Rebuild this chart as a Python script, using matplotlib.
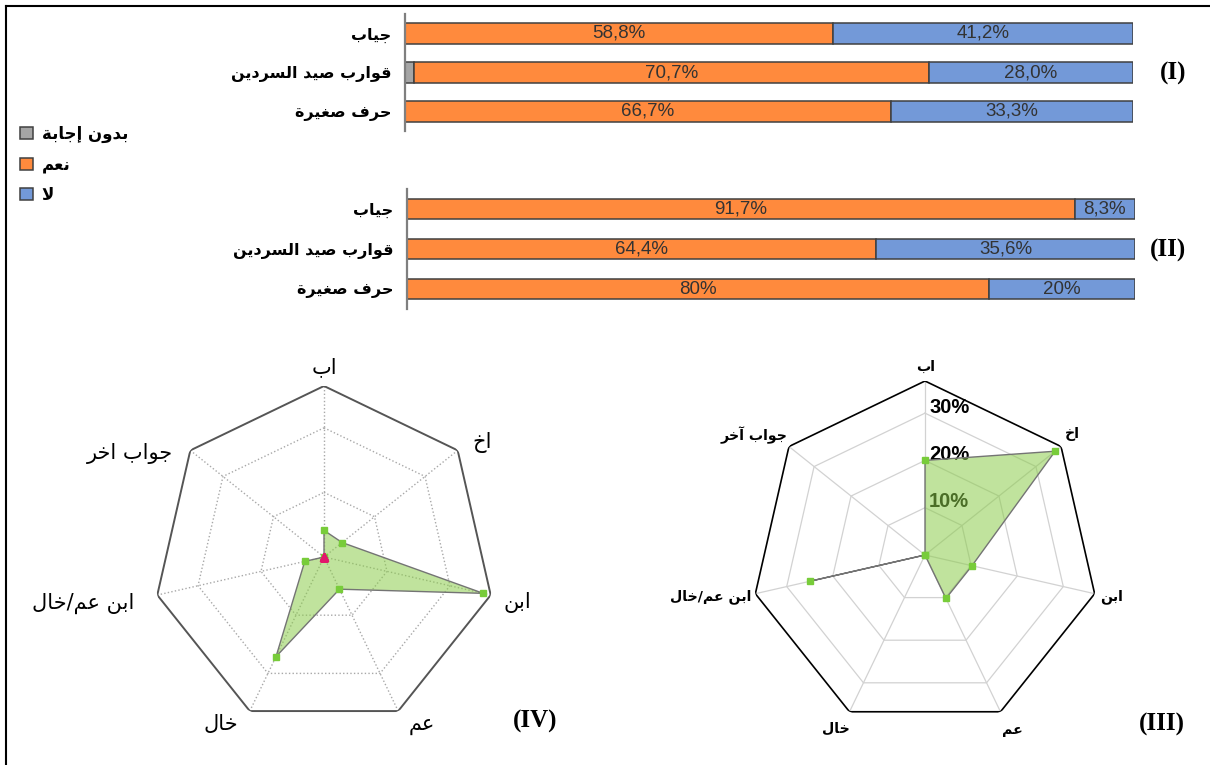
import numpy as np
import matplotlib
matplotlib.use("Agg")
import matplotlib.pyplot as plt
from matplotlib.lines import Line2D

# ---------------- data ----------------
bar_categories = ["جياب", "قوارب صيد السردين", "حرف صغيرة"]
series_names = ["بدون إجابة", "نعم", "لا"]

panel_I_none = [0.0, 1.3, 0.0]
panel_I_yes = [58.8, 70.7, 66.7]
panel_I_no = [41.2, 28.0, 33.3]
panel_I_decimals = [1, 1, 1]

panel_II_none = [0.0, 0.0, 0.0]
panel_II_yes = [91.7, 64.4, 80.0]
panel_II_no = [8.3, 35.6, 20.0]
panel_II_decimals = [1, 1, 0]

radar_IV_labels = ["اب", "اخ", "ابن", "عم", "خال", "ابن عم/خال", "جواب اخر"]
radar_IV_values = [7.0, 6.1, 43.0, 9.4, 29.1, 5.2, 0.0]
radar_IV_other = [0.0, 0.0, 0.0, 0.0, 0.0, 0.0, 0.0]
radar_IV_max = 45.0
radar_IV_rings = [17.0, 34.0]

radar_III_labels = ["اب", "اخ", "ابن", "عم", "خال", "ابن عم/خال", "جواب آخر"]
radar_III_values = [20.0, 35.2, 10.2, 10.2, 0.0, 25.0, 0.0]
radar_III_max = 36.8
radar_III_ticks = [10, 20, 30]

# ---------------- colours ----------------
C_NONE = "#A5A5A5"
C_YES = "#FF8A3D"
C_NO = "#7399D8"
C_EDGE = "#404040"
C_FILL = "#8BCC4A"
C_MARK = "#78CC3A"
C_TRI = "#E2186C"

W, H = 1210, 765
fig = plt.figure(figsize=(W / 100, H / 100), dpi=100)
fig.patch.set_facecolor("white")

AR = "DejaVu Sans"

# ---------------- Arabic shaping (presentation forms) ----------------
_FORMS = {
    'ا': ('\ufe8d', '\ufe8e', None, None),
    'آ': ('\ufe81', '\ufe82', None, None),
    'إ': ('\ufe87', '\ufe88', None, None),
    'أ': ('\ufe83', '\ufe84', None, None),
    'ب': ('\ufe8f', '\ufe90', '\ufe91', '\ufe92'),
    'ة': ('\ufe93', '\ufe94', None, None),
    'ج': ('\ufe9d', '\ufe9e', '\ufe9f', '\ufea0'),
    'ح': ('\ufea1', '\ufea2', '\ufea3', '\ufea4'),
    'خ': ('\ufea5', '\ufea6', '\ufea7', '\ufea8'),
    'د': ('\ufea9', '\ufeaa', None, None),
    'ر': ('\ufead', '\ufeae', None, None),
    'س': ('\ufeb1', '\ufeb2', '\ufeb3', '\ufeb4'),
    'ص': ('\ufeb9', '\ufeba', '\ufebb', '\ufebc'),
    'ع': ('\ufec9', '\ufeca', '\ufecb', '\ufecc'),
    'غ': ('\ufecd', '\ufece', '\ufecf', '\ufed0'),
    'ف': ('\ufed1', '\ufed2', '\ufed3', '\ufed4'),
    'ق': ('\ufed5', '\ufed6', '\ufed7', '\ufed8'),
    'ل': ('\ufedd', '\ufede', '\ufedf', '\ufee0'),
    'م': ('\ufee1', '\ufee2', '\ufee3', '\ufee4'),
    'ن': ('\ufee5', '\ufee6', '\ufee7', '\ufee8'),
    'و': ('\ufeed', '\ufeee', None, None),
    'ي': ('\ufef1', '\ufef2', '\ufef3', '\ufef4'),
}
_LAM_ALEF = {'ا': ('\ufefb', '\ufefc'), 'آ': ('\ufef5', '\ufef6'),
             'إ': ('\ufef9', '\ufefa'), 'أ': ('\ufef7', '\ufef8')}


def ar(text):
    units = []
    i = 0
    while i < len(text):
        ch = text[i]
        if ch == 'ل' and i + 1 < len(text) and text[i + 1] in _LAM_ALEF:
            units.append(('LA', text[i + 1]))
            i += 2
        else:
            units.append(('C', ch))
            i += 1

    def joins_back(u):
        return u[0] == 'LA' or u[1] in _FORMS

    def joins_fwd(u):
        return u[0] == 'C' and u[1] in _FORMS and _FORMS[u[1]][2] is not None

    out = []
    for k, u in enumerate(units):
        prev_j = k > 0 and joins_fwd(units[k - 1]) and joins_back(u)
        if u[0] == 'LA':
            iso, fin = _LAM_ALEF[u[1]]
            out.append(fin if prev_j else iso)
            continue
        if u[1] not in _FORMS:
            out.append(u[1])
            continue
        next_j = k + 1 < len(units) and joins_fwd(u) and joins_back(units[k + 1])
        iso, fin, ini, med = _FORMS[u[1]]
        if prev_j and next_j:
            out.append(med)
        elif prev_j:
            out.append(fin)
        elif next_j:
            out.append(ini)
        else:
            out.append(iso)
    return ''.join(reversed(out))


def px_axes(left, top, right, bottom, **kw):
    return fig.add_axes([left / W, 1 - bottom / H, (right - left) / W, (bottom - top) / H], **kw)


def fmt_pct(v, d):
    return f"{v:.{d}f}".replace('.', ',') + "%"


# ---------------- stacked bar panels ----------------
def bar_panel(ax, none, yes, no, decimals):
    y = np.arange(len(bar_categories))
    none = np.asarray(none)
    yes = np.asarray(yes)
    no = np.asarray(no)
    h = 0.52
    kw = dict(height=h, edgecolor=C_EDGE, linewidth=1.1)
    c_none = ax.barh(y, none, left=0, color=C_NONE, **kw)
    c_yes = ax.barh(y, yes, left=none, color=C_YES, **kw)
    c_no = ax.barh(y, no, left=none + yes, color=C_NO, **kw)
    lab_kw = dict(label_type='center', fontsize=13.5, color="#333333", family="Liberation Sans")
    ax.bar_label(c_yes, labels=[fmt_pct(v, d) for v, d in zip(yes, decimals)], **lab_kw)
    ax.bar_label(c_no, labels=[fmt_pct(v, d) for v, d in zip(no, decimals)], **lab_kw)
    ax.set_xlim(0, 100)
    ax.set_ylim(2.5, -0.5)
    ax.set_yticks(y)
    ax.set_yticklabels([ar(c) for c in bar_categories], family=AR, fontweight='bold', fontsize=11.5)
    ax.tick_params(axis='y', length=0, pad=10)
    ax.set_xticks([])
    for s in ("top", "right", "bottom"):
        ax.spines[s].set_visible(False)
    ax.spines["left"].set_color("#7f7f7f")
    ax.spines["left"].set_linewidth(1.6)
    ax.patch.set_alpha(0)
    return c_none, c_yes, c_no


ax1 = px_axes(405, 14, 1133, 131)
handles = bar_panel(ax1, panel_I_none, panel_I_yes, panel_I_no, panel_I_decimals)
ax2 = px_axes(407, 189, 1135, 309)
bar_panel(ax2, panel_II_none, panel_II_yes, panel_II_no, panel_II_decimals)

fig.text(1173 / W, 1 - 73 / H, "(I)", family="Liberation Serif", fontweight="bold",
         fontsize=18, ha="center", va="center")
fig.text(1168 / W, 1 - 250 / H, "(II)", family="Liberation Serif", fontweight="bold",
         fontsize=18, ha="center", va="center")

leg = fig.legend(handles, [ar(s) for s in series_names], loc="upper left",
                 bbox_to_anchor=(20 / W, 1 - 125 / H), frameon=False,
                 prop=dict(family=AR, weight="bold", size=12),
                 handlelength=0.75, handleheight=0.75, handletextpad=0.55,
                 labelspacing=0.75, borderpad=0, borderaxespad=0)


# ---------------- radar panels ----------------
def radar(ax, labels, values, rmax, rings, ring_kw, outer_kw, label_kw, offsets):
    n = len(labels)
    theta = np.arange(n) * 2 * np.pi / n
    tc = np.append(theta, theta[0])
    ax.set_theta_offset(np.pi / 2)
    ax.set_theta_direction(-1)
    ax.set_ylim(0, rmax)
    ax.set_xticks([])
    ax.set_yticks([])
    ax.grid(False)
    ax.spines["polar"].set_visible(False)
    ax.patch.set_alpha(0)
    for r in rings:
        ax.plot(tc, np.full(n + 1, r), zorder=1, **ring_kw)
    for t in theta:
        ax.plot([t, t], [0, rmax], zorder=1, **ring_kw)
    ax.plot(tc, np.full(n + 1, rmax), zorder=1, **outer_kw)
    vc = np.append(values, values[0])
    ax.fill(tc, vc, color=C_FILL, alpha=0.54, zorder=3, lw=0)
    ax.plot(tc, vc, color="#747474", lw=1.0, zorder=4)
    ax.plot(theta, values, ls="none", marker="s", ms=5, color=C_MARK, zorder=5, clip_on=False)
    for t, lab, (dx, dy, ha) in zip(theta, labels, offsets):
        ax.annotate(ar(lab), xy=(t, rmax), xytext=(dx, dy), textcoords="offset pixels",
                    ha=ha, va="center", annotation_clip=False, **label_kw)
    return theta


axIV = px_axes(153, 386, 495, 728, projection="polar")
offs_IV = [(0, 19, "center"), (15, 8, "left"), (13, -7, "left"), (10, -14, "left"),
           (-12, -13, "right"), (-23, -8, "right"), (-17, -3, "right")]
thIV = radar(axIV, radar_IV_labels, radar_IV_values, radar_IV_max, radar_IV_rings,
             dict(color="#a8a8a8", lw=1.0, ls=(0, (1, 1.6))),
             dict(color="#555555", lw=1.4),
             dict(family=AR, fontsize=15, color="black"), offs_IV)
axIV.plot(thIV, radar_IV_other, ls="none", marker="^", ms=6, color=C_TRI, zorder=6)

axIII = px_axes(751, 381, 1099, 729, projection="polar")
offs_III = [(1, 14, "center"), (4, 13, "left"), (5, -3, "left"), (2, -18, "left"),
            (0, -17, "right"), (-4, -3, "right"), (-2, 11, "right")]
radar(axIII, radar_III_labels, radar_III_values, radar_III_max, radar_III_ticks,
      dict(color="#d2d2d2", lw=0.9),
      dict(color="black", lw=1.2),
      dict(family=AR, fontsize=10.2, fontweight="bold", color="black"), offs_III)
for tk in radar_III_ticks:
    axIII.annotate(f"{tk}%", xy=(0, tk), xytext=(4, 6), textcoords="offset pixels",
                   ha="left", va="center", family="Liberation Sans", fontweight="bold",
                   fontsize=14.5, color="black", zorder=2)

fig.text(535 / W, 1 - 721 / H, "(IV)", family="Liberation Serif", fontweight="bold",
         fontsize=18, ha="center", va="center")
fig.text(1162 / W, 1 - 724 / H, "(III)", family="Liberation Serif", fontweight="bold",
         fontsize=18, ha="center", va="center")

# outer frame (left and top edges)
fig.add_artist(Line2D([5.5 / W, 5.5 / W], [0, 1 - 5.5 / H], color="black", lw=1.5))
fig.add_artist(Line2D([5.5 / W, 1], [1 - 5.5 / H, 1 - 5.5 / H], color="black", lw=1.5))

fig.savefig("out.png", dpi=100, facecolor="white")
